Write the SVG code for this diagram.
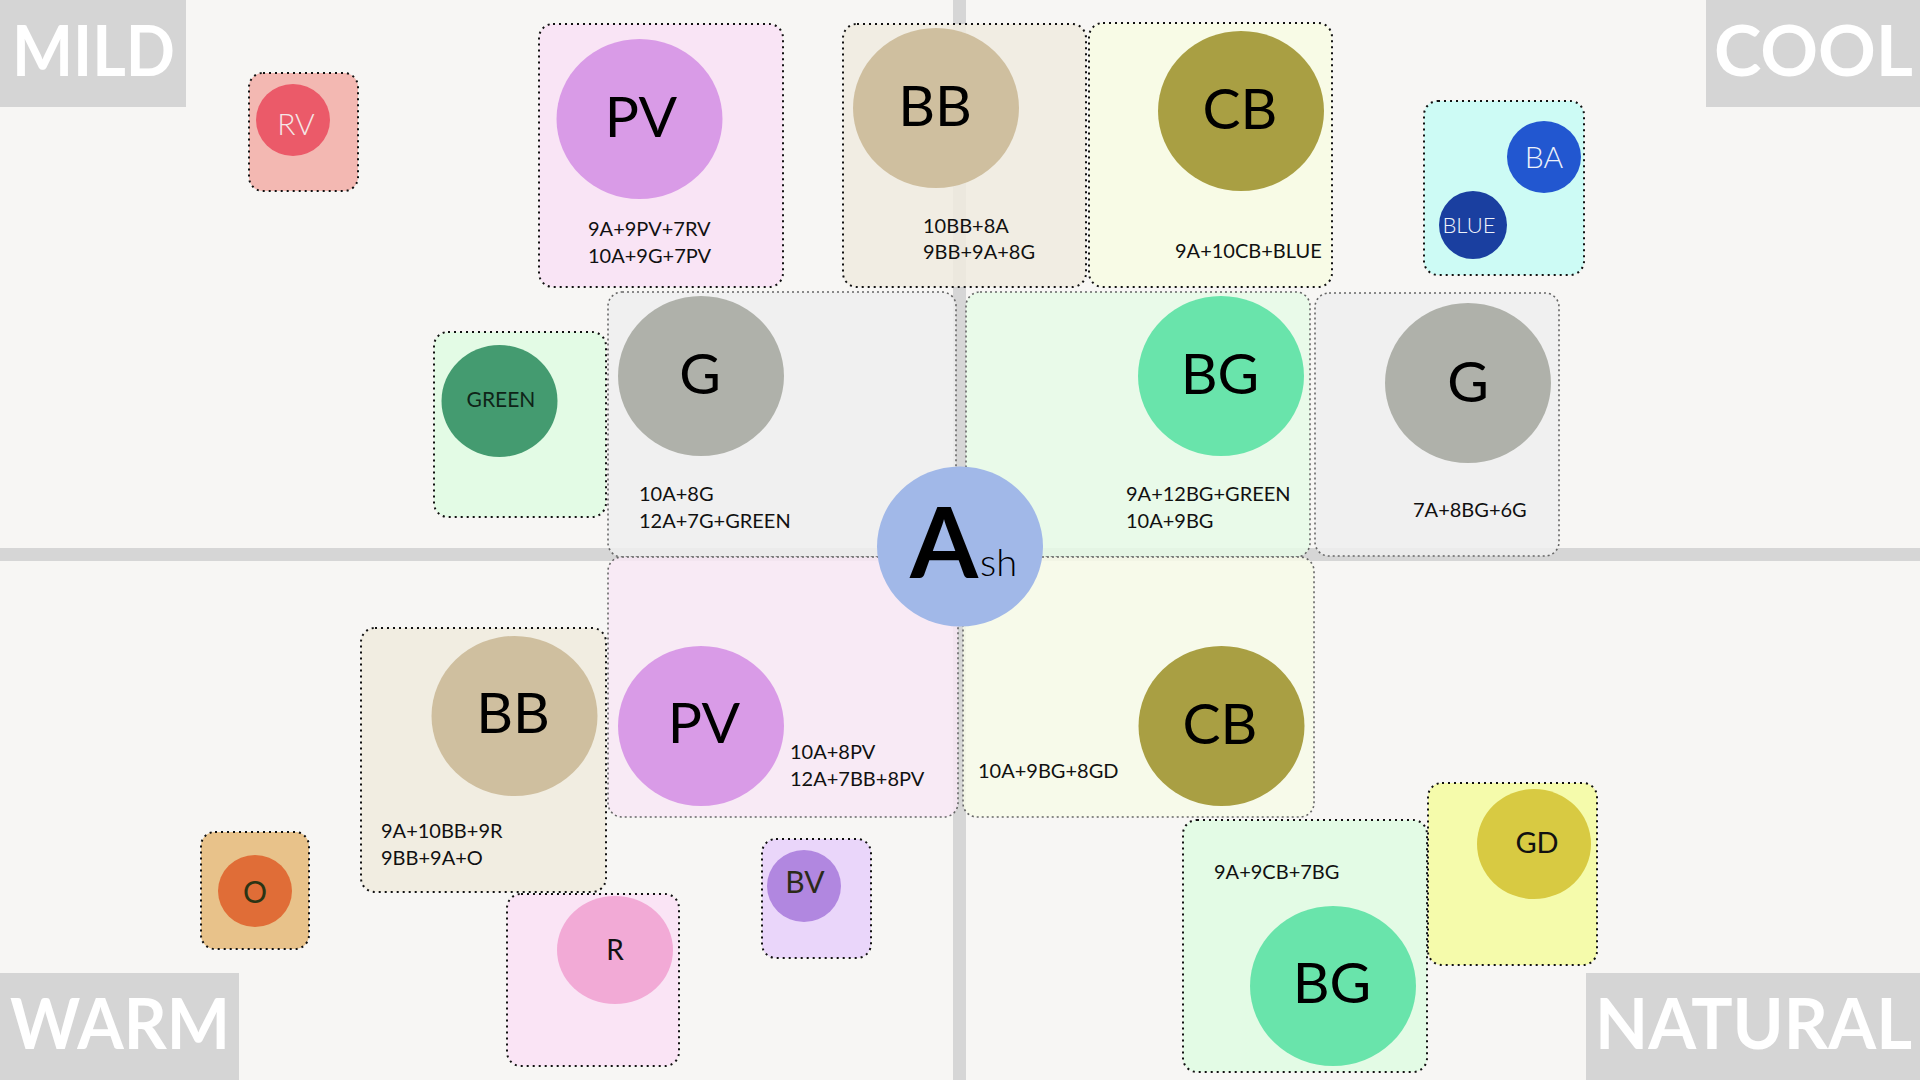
<svg xmlns="http://www.w3.org/2000/svg" width="1920" height="1080" viewBox="0 0 1920 1080">
<style>
.box{stroke:#111;stroke-width:2;stroke-dasharray:2 4;fill-opacity:0.86}
.gbox{stroke:#666;stroke-width:1.6;stroke-dasharray:2 3;fill-opacity:0.86}
.big{font-family:Lato,"Open Sans",sans-serif;font-size:57px;fill:#000;text-anchor:middle}
.sm{font-family:Lato,"Open Sans",sans-serif;font-size:30px;text-anchor:middle}
.lt{font-weight:300}
.ln{font-family:Lato,"Open Sans",sans-serif;font-size:20px;fill:#111}
.quad{font-family:Lato,"Open Sans",sans-serif;font-weight:700;font-size:70px;fill:#fff}
.qbox{fill:#D5D5D5}
</style>
<rect width="1920" height="1080" fill="#F7F6F4"/>
<g id="axes">
<rect x="953" y="0" width="13" height="1080" fill="#D6D6D6"/>
<rect x="0" y="548" width="1920" height="13" fill="#D6D6D6"/>
</g>
<g id="quadrants">
<rect class="qbox" x="0" y="0" width="186" height="107"/>
<text class="quad" x="12" y="76" textLength="163" lengthAdjust="spacingAndGlyphs">MILD</text>
<rect class="qbox" x="1706" y="0" width="214" height="107"/>
<text class="quad" x="1714" y="76" textLength="199" lengthAdjust="spacingAndGlyphs">COOL</text>
<rect class="qbox" x="0" y="973" width="239" height="107"/>
<text class="quad" x="10" y="1049" textLength="220" lengthAdjust="spacingAndGlyphs">WARM</text>
<rect class="qbox" x="1586" y="973" width="334" height="107"/>
<text class="quad" x="1595" y="1049" textLength="317" lengthAdjust="spacingAndGlyphs">NATURAL</text>
</g>
<g id="connectors"></g>
<g id="node-rv">
<rect class="box" x="249" y="73" width="109" height="118" rx="14" fill="#F2ADA7"/>
<ellipse cx="293" cy="120" rx="37" ry="36" fill="#EB5A69"/>
<text class="sm lt" x="296" y="135" fill="#F5E6E6">RV</text>
</g>
<g id="node-pv-top">
<rect class="box" x="539" y="24" width="244" height="263" rx="14" fill="#F9E1F4"/>
<ellipse cx="639.5" cy="119" rx="83" ry="80" fill="#D99BE7"/>
<text class="big" x="641" y="137">PV</text>
<text class="ln" x="588" y="236">9A+9PV+7RV</text>
<text class="ln" x="588" y="263">10A+9G+7PV</text>
</g>
<g id="node-bb-top">
<rect class="box" x="843" y="24" width="243" height="263" rx="14" fill="#F0EBDF"/>
<ellipse cx="936" cy="108" rx="83" ry="80" fill="#CFBF9F"/>
<text class="big" x="935" y="126">BB</text>
<text class="ln" x="923" y="233">10BB+8A</text>
<text class="ln" x="923" y="259">9BB+9A+8G</text>
</g>
<g id="node-cb-top">
<rect class="box" x="1089" y="23" width="243" height="264" rx="14" fill="#F8FBE3"/>
<ellipse cx="1241" cy="111" rx="83" ry="80" fill="#A99F43"/>
<text class="big" x="1240" y="129">CB</text>
<text class="ln" x="1175" y="258">9A+10CB+BLUE</text>
</g>
<g id="node-blue">
<rect class="box" x="1424" y="101" width="160" height="174" rx="14" fill="#C6FCF4"/>
<ellipse cx="1544" cy="157" rx="37" ry="36" fill="#2257D0"/>
<text class="sm lt" x="1544" y="168" fill="#EEF2FA">BA</text>
<ellipse cx="1473" cy="225" rx="34" ry="34" fill="#1A3FA0"/>
<text class="sm lt" x="1469" y="233" style="font-size:22px" fill="#EEF2FA">BLUE</text>
</g>
<g id="node-green">
<rect class="box" x="434" y="332" width="172" height="185" rx="14" fill="#DFFBE2"/>
<ellipse cx="499.5" cy="401" rx="58" ry="56" fill="#449B70"/>
<text class="sm" x="501" y="407" style="font-size:21px" fill="#0F2418">GREEN</text>
</g>
<g id="node-g-left">
<rect class="gbox" x="608" y="292" width="348" height="265" rx="14" fill="#EFEFEF"/>
<ellipse cx="701" cy="376" rx="83" ry="80" fill="#AFB1AA"/>
<text class="big" x="700" y="394">G</text>
<text class="ln" x="639" y="501">10A+8G</text>
<text class="ln" x="639" y="528">12A+7G+GREEN</text>
</g>
<g id="node-bg-top">
<rect class="gbox" x="966" y="292" width="344" height="265" rx="14" fill="#E6FAE6"/>
<ellipse cx="1221" cy="376" rx="83" ry="80" fill="#69E4AB"/>
<text class="big" x="1220" y="394">BG</text>
<text class="ln" x="1126" y="501">9A+12BG+GREEN</text>
<text class="ln" x="1126" y="528">10A+9BG</text>
</g>
<g id="node-g-right">
<rect class="gbox" x="1315" y="293" width="244" height="263" rx="14" fill="#EFEFEF"/>
<ellipse cx="1468" cy="383" rx="83" ry="80" fill="#AFB1AA"/>
<text class="big" x="1468" y="402">G</text>
<text class="ln" x="1413" y="517">7A+8BG+6G</text>
</g>
<g id="node-pv-bottom">
<rect class="gbox" x="608" y="557" width="350" height="260" rx="14" fill="#F8E8F4"/>
<ellipse cx="701" cy="726" rx="83" ry="80" fill="#D99BE7"/>
<text class="big" x="704" y="743">PV</text>
<text class="ln" x="790" y="759">10A+8PV</text>
<text class="ln" x="790" y="786">12A+7BB+8PV</text>
</g>
<g id="node-cb-bottom">
<rect class="gbox" x="963" y="557" width="351" height="260" rx="14" fill="#F7FAE8"/>
<ellipse cx="1221.5" cy="726" rx="83" ry="80" fill="#A99F43"/>
<text class="big" x="1220" y="744">CB</text>
<text class="ln" x="978" y="778">10A+9BG+8GD</text>
</g>
<g id="node-bb-bottom">
<rect class="box" x="361" y="628" width="245" height="264" rx="14" fill="#F0EBDD"/>
<ellipse cx="514.5" cy="716" rx="83" ry="80" fill="#CFBF9F"/>
<text class="big" x="513" y="733">BB</text>
<text class="ln" x="381" y="838">9A+10BB+9R</text>
<text class="ln" x="381" y="865">9BB+9A+O</text>
</g>
<g id="node-o">
<rect class="box" x="201" y="832" width="108" height="117" rx="14" fill="#E5B978"/>
<ellipse cx="255" cy="891" rx="37" ry="36" fill="#E06D37"/>
<text class="sm" x="255" y="903" fill="#2B3414">O</text>
</g>
<g id="node-r">
<rect class="box" x="507" y="894" width="172" height="172" rx="14" fill="#FAE1F4"/>
<ellipse cx="615" cy="950" rx="58" ry="54" fill="#F2AAD6"/>
<text class="sm" x="615" y="960" style="font-size:28px" fill="#111">R</text>
</g>
<g id="node-bv">
<rect class="box" x="762" y="839" width="109" height="119" rx="14" fill="#E8D0FA"/>
<ellipse cx="804" cy="886" rx="37" ry="36" fill="#B187E0"/>
<text class="sm" x="805" y="893" fill="#2B2A18">BV</text>
</g>
<g id="node-bg-bottom">
<rect class="box" x="1183" y="820" width="244" height="252" rx="14" fill="#DFFBE2"/>
<ellipse cx="1333" cy="986" rx="83" ry="80" fill="#69E4AB"/>
<text class="big" x="1332" y="1003">BG</text>
<text class="ln" x="1214" y="879">9A+9CB+7BG</text>
</g>
<g id="node-gd">
<rect class="box" x="1428" y="783" width="169" height="182" rx="14" fill="#F4FB9E"/>
<ellipse cx="1534" cy="844" rx="57" ry="55" fill="#D8CA42"/>
<text class="sm" x="1537" y="853" style="font-size:29px" fill="#111">GD</text>
</g>
<g id="node-ash">
<ellipse cx="960" cy="546.5" rx="83" ry="80" fill="#A1B8E8"/>
<text x="978" y="578" text-anchor="end" style="font-family:Lato,'Open Sans',sans-serif;font-weight:700;font-size:98px" fill="#000">A</text>
<text x="980" y="576" style="font-family:Lato,'Open Sans',sans-serif;font-weight:300;font-size:38px" fill="#000">sh</text>
</g>
</svg>
